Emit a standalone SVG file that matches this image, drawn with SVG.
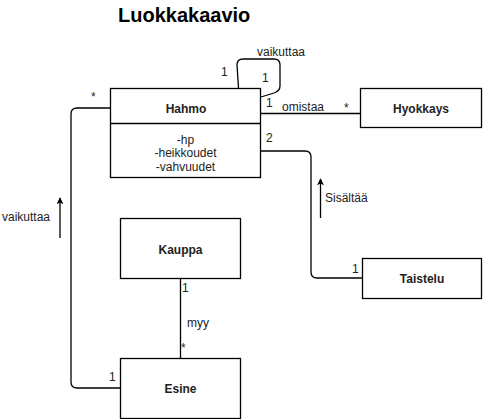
<svg xmlns="http://www.w3.org/2000/svg" width="484" height="419" viewBox="0 0 484 419">
<defs>
<style>
.box{fill:#fff;stroke:#000;stroke-width:1.3}
.edge{fill:none;stroke:#000;stroke-width:1.3}
.name{font-family:"Liberation Sans",Arial,sans-serif;font-size:12px;font-weight:bold;fill:#222;text-anchor:middle}
.attr{font-family:"Liberation Sans",Arial,sans-serif;font-size:12px;fill:#222;text-anchor:middle}
.lbl{font-family:"Liberation Sans",Arial,sans-serif;font-size:12px;fill:#222}
.title{font-family:"Liberation Sans",Arial,sans-serif;font-size:20px;font-weight:bold;fill:#000}
</style>
<marker id="arr" viewBox="0 0 10 10" refX="9" refY="5" markerWidth="7" markerHeight="7" orient="auto" markerUnits="userSpaceOnUse">
<path d="M0,0 L10,5 L0,10 L2.5,5 Z" fill="#000"/>
</marker>
</defs>
<rect width="484" height="419" fill="#fff"/>
<text class="title" x="118" y="22">Luokkakaavio</text>

<g id="connectors">
<path class="edge" d="M238.5,88 L237,65 Q237,59 243,59 H274 Q280,59 280,65 V86 Q280,91 274,93 L261,97"/>
<path class="edge" d="M261,113.5 H360"/>
<path class="edge" d="M260,151 H305 Q311,151 311,157 V272 Q311,278 317,278 H362"/>
<path class="edge" d="M110,108 H77 Q71,108 71,114 V382 Q71,388 77,388 H120"/>
<path class="edge" d="M180.5,278 V358"/>
<path class="edge" d="M60,238 V198" marker-end="url(#arr)"/>
<path class="edge" d="M320.5,218 V179" marker-end="url(#arr)"/>
<text class="lbl" x="257" y="55.5">vaikuttaa</text>
<text class="lbl" x="221" y="76">1</text>
<text class="lbl" x="262" y="82">1</text>
<text class="lbl" x="266" y="107">1</text>
<text class="lbl" x="282" y="111">omistaa</text>
<text class="lbl" x="344" y="112">*</text>
<text class="lbl" x="266" y="142">2</text>
<text class="lbl" x="325" y="202">Sisältää</text>
<text class="lbl" x="352" y="273">1</text>
<text class="lbl" x="91" y="101">*</text>
<text class="lbl" x="2" y="221">vaikuttaa</text>
<text class="lbl" x="109" y="381">1</text>
<text class="lbl" x="182" y="292">1</text>
<text class="lbl" x="187" y="327">myy</text>
<text class="lbl" x="181" y="352">*</text>
</g>

<g id="hahmo">
<rect class="box" x="110.5" y="88.5" width="150" height="89"/>
<line class="edge" x1="110.5" y1="123.5" x2="260.5" y2="123.5"/>
<text class="name" x="186" y="113">Hahmo</text>
<text class="attr" x="185.5" y="143.5">-hp</text>
<text class="attr" x="185.5" y="157">-heikkoudet</text>
<text class="attr" x="185.5" y="170.5">-vahvuudet</text>
</g>
<g id="hyokkays">
<rect class="box" x="360.5" y="88.5" width="121" height="39"/>
<text class="name" x="421" y="113">Hyokkays</text>
</g>
<g id="taistelu">
<rect class="box" x="362.5" y="258.5" width="119" height="40"/>
<text class="name" x="422" y="283">Taistelu</text>
</g>
<g id="kauppa">
<rect class="box" x="120.5" y="218.5" width="120" height="60"/>
<text class="name" x="180.5" y="254">Kauppa</text>
</g>
<g id="esine">
<rect class="box" x="120.5" y="358.5" width="120" height="60"/>
<text class="name" x="180.5" y="393">Esine</text>
</g>
</svg>
